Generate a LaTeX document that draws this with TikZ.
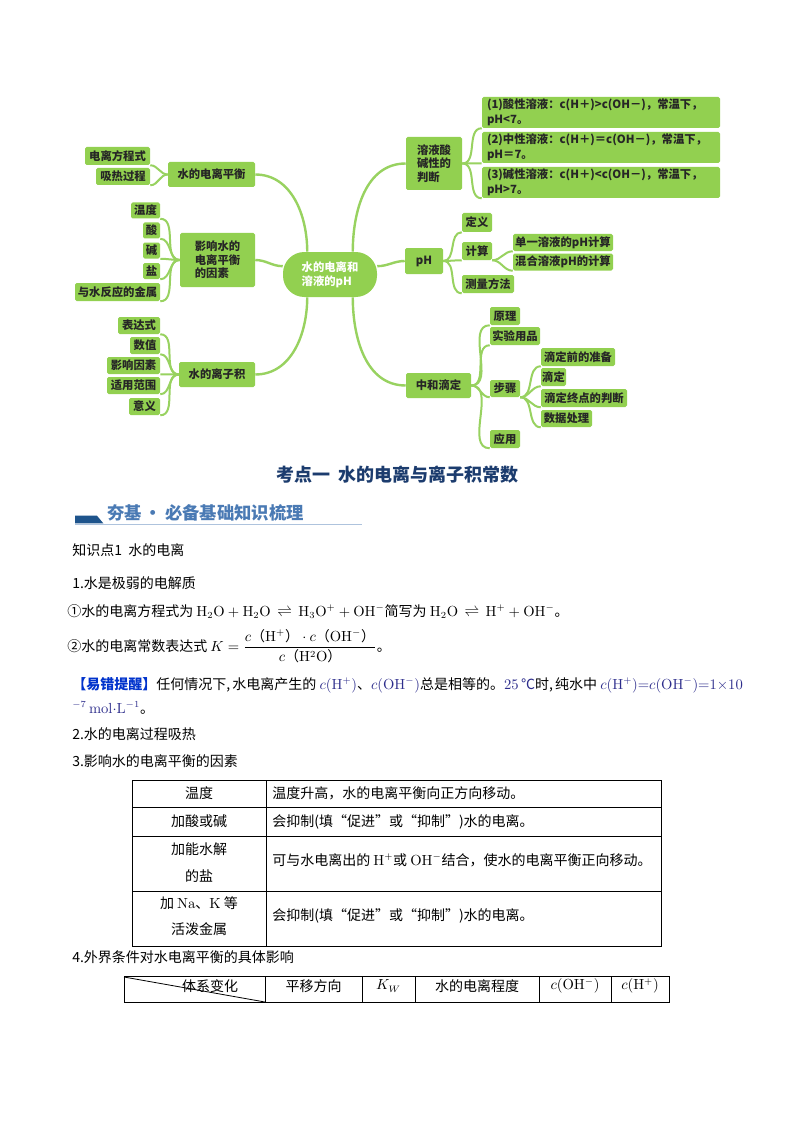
\documentclass[tikz,border=0pt]{standalone}
\usepackage{amsmath}
\usepackage{mathtools}
\usepackage[no-math]{fontspec}
\setmainfont{Noto Sans CJK SC}
\usetikzlibrary{backgrounds}
\definecolor{mapgreen}{RGB}{146,208,80}
\definecolor{mapline}{RGB}{152,210,96}
\definecolor{titleblue}{RGB}{28,60,110}
\definecolor{headblue}{RGB}{74,122,180}
\definecolor{bardark}{RGB}{30,84,140}
\definecolor{warnblue}{RGB}{0,51,204}
\definecolor{fnavy}{RGB}{45,45,140}
\newcommand{\mapfs}{\fontsize{8.5pt}{10.2pt}\selectfont\bfseries}
\newcommand{\bodyfs}{\fontsize{10.5pt}{14pt}\selectfont}
\newcommand{\cjkp}[1]{\mbox{（}\mathrm{#1}\mbox{）}}
\newcommand{\eqarrow}{\mathrel{\,\rightleftharpoons\,}}

\begin{document}
\begin{tikzpicture}[x=0.75pt, y=-0.75pt,
  leaf/.style={fill=mapgreen, rounded corners=1.2pt, inner sep=0.5pt, font=\mapfs, text=black!85},
  bx/.style 2 args={minimum width=#1*0.75pt, minimum height=#2*0.75pt},
  topic/.style={leaf, align=left},
  jbox/.style={leaf, text width=171pt, inner xsep=3.75pt, inner ysep=0.5pt,
    minimum height=23.25pt, align=left, font=\fontsize{8.5pt}{11.2pt}\selectfont\bfseries},
  hub/.style={fill=mapgreen, rounded corners=16pt, inner sep=0.5pt, font=\mapfs, text=white, align=left},
  trunk/.style={draw=mapline, line width=1.8pt},
  twig/.style={draw=mapline, line width=1.5pt},
  tor/.style={out=0, in=180},
  tol/.style={out=180, in=0},
  txt/.style={anchor=base west, inner sep=0pt, font=\bodyfs},
  cell/.style={inner sep=0pt, font=\bodyfs},
  rule/.style={line width=0.6pt}
]
\useasboundingbox (0,0) rectangle (794,1123);
\begin{scope}[on background layer]
  \fill[white] (0,0) rectangle (794,1123);
\end{scope}

% Centre
\node[hub, bx={94}{45}] (core) at (330,274.5) {水的电离和\\溶液的pH};

% Left branches
\node[leaf, bx={87}{25}] (balance) at (211.5,174.5) {水的电离平衡};
\node[leaf, bx={65}{18}] (eqn) at (117.5,156) {电离方程式};
\node[leaf, bx={54}{17}] (heat) at (123,176.5) {吸热过程};

\node[topic, bx={75}{54}] (factor) at (217.5,260) {影响水的\\电离平衡\\的因素};
\node[leaf, bx={29}{16}] (temp) at (145.5,210.5) {温度};
\node[leaf, bx={17}{16}] (acid) at (151.5,230.5) {酸};
\node[leaf, bx={17}{16}] (base) at (151.5,250.5) {碱};
\node[leaf, bx={17}{16}] (salt) at (151.5,271) {盐};
\node[leaf, bx={85}{18}] (metal) at (117.5,292) {与水反应的金属};

\node[leaf, bx={76}{25}] (kw) at (217,374.5) {水的离子积};
\node[leaf, bx={42}{17}] (expr) at (139,325.5) {表达式};
\node[leaf, bx={30}{17}] (value) at (145,345.5) {数值};
\node[leaf, bx={53}{17}] (infl) at (133.5,365.5) {影响因素};
\node[leaf, bx={53}{17}] (range) at (133.5,385.5) {适用范围};
\node[leaf, bx={31}{17}] (mean) at (144.5,406.5) {意义};

% Right branches
\node[topic, bx={56}{53}] (judge) at (434,163.5) {溶液酸\\碱性的\\判断};
\node[jbox] (acidic) at (601,112.5) {(1)酸性溶液：c(H＋)>c(OH－)，常温下，\\pH<7。};
\node[jbox] (neutral) at (601,147.5) {(2)中性溶液：c(H＋)＝c(OH－)，常温下，\\pH＝7。};
\node[jbox] (alkaline) at (601,182.5) {(3)碱性溶液：c(H＋)<c(OH－)，常温下，\\pH>7。};

\node[leaf, bx={38}{26}] (ph) at (424,261) {pH};
\node[leaf, bx={30}{19}] (phdef) at (477,222.5) {定义};
\node[leaf, bx={30}{18}] (phcalc) at (477,251) {计算};
\node[leaf, bx={100}{17}] (single) at (563,242.5) {单一溶液的pH计算};
\node[leaf, bx={100}{17}] (mixed) at (563,262) {混合溶液pH的计算};
\node[leaf, bx={52}{18}] (measure) at (488,284) {测量方法};

\node[leaf, bx={65}{25}] (titr) at (438.5,385.5) {中和滴定};
\node[leaf, bx={30}{18}] (principle) at (505,316) {原理};
\node[leaf, bx={50}{18}] (tools) at (515,336) {实验用品};
\node[leaf, bx={30}{17}] (steps) at (505,388.5) {步骤};
\node[leaf, bx={74}{18}] (prep) at (578,357) {滴定前的准备};
\node[leaf, bx={25}{18}] (drip) at (553.5,377) {滴定};
\node[leaf, bx={86}{18}] (endpt) at (584,398) {滴定终点的判断};
\node[leaf, bx={51}{17}] (data) at (566.5,418.5) {数据处理};
\node[leaf, bx={30}{18}] (apply) at (505,439) {应用};

% Connectors
\begin{scope}[on background layer]
  \draw[trunk] (core.135) to[out=90, in=0] (balance.east);
  \draw[trunk] (core.170) to[tol] (factor.east);
  \draw[trunk] (core.-135) to[out=-90, in=0] (kw.east);
  \draw[trunk] (core.45) to[out=90, in=180] (judge.west);
  \draw[trunk] (core.10) to[tor] (ph.west);
  \draw[trunk] (core.-45) to[out=-90, in=180] (titr.west);
  \foreach \n in {eqn,heat} \draw[twig] (balance.west) to[tol] (\n.south east);
  \foreach \n in {temp,acid,base,salt,metal} \draw[twig] (factor.west) to[tol] (\n.south east);
  \foreach \n in {expr,value,infl,range,mean} \draw[twig] (kw.west) to[tol] (\n.south east);
  \foreach \n in {acidic,neutral,alkaline} \draw[twig] (judge.east) to[tor] (\n.south west);
  \foreach \n in {phdef,phcalc,measure} \draw[twig] (ph.east) to[tor] (\n.south west);
  \foreach \n in {single,mixed} \draw[twig] (phcalc.south east) to[tor] (\n.south west);
  \foreach \n in {principle,tools,steps,apply} \draw[twig] (titr.east) to[tor] (\n.south west);
  \foreach \n in {prep,drip,endpt,data} \draw[twig] (steps.south east) to[tor] (\n.south west);
\end{scope}

% Title and heading
\node[inner sep=0pt, font=\fontsize{13.5pt}{16pt}\selectfont\bfseries, text=titleblue] (title) at (397.5,475) {考点一\ \ 水的电离与离子积常数};
\fill[bardark] (75,515.7) -- (97,515.7) -- (103.3,523.3) -- (75,523.3) -- cycle;
\node[anchor=west, inner sep=0pt, font=\fontsize{13pt}{15pt}\selectfont\bfseries, text=headblue] (head) at (107,512.5) {夯基\,·\,必备基础知识梳理};
\draw[draw=headblue!45, line width=0.6pt] (75,524.5) -- (362,524.5);

% Body text
\node[txt] (kp) at (72,555) {知识点1\ \ 水的电离};
\node[txt] (p1) at (72,588) {1.水是极弱的电解质};
\node[txt] (p2) at (67,616) {①水的电离方程式为 $\mathrm{H_2O+H_2O\eqarrow H_3O^+ + OH^-}$简写为 $\mathrm{H_2O\eqarrow H^+ + OH^-}$。};
\node[txt] (p3) at (67,651) {②水的电离常数表达式 $K=\dfrac{c\cjkp{H^+}\cdot c\cjkp{OH^-}}{c\cjkp{H^2O}}$。};
\node[txt] (p4) at (72,689) {{\color{warnblue}\bfseries 【易错提醒】}任何情况下,\,水电离产生的 {\color{fnavy}$c(\mathrm{H^+})$}、{\color{fnavy}$c(\mathrm{OH^-})$}总是相等的。{\color{fnavy}$25$\,℃}时,\,纯水中 {\color{fnavy}$c(\mathrm{H^+}){=}c(\mathrm{OH^-}){=}1{\times}10$}};
\node[txt] (p5) at (72,713) {{\color{fnavy}$^{-7}\,\mathrm{mol{\cdot}L^{-1}}$}。};
\node[txt] (p6) at (72,739) {2.水的电离过程吸热};
\node[txt] (p7) at (72,766) {3.影响水的电离平衡的因素};

% Table of factors
\draw[rule] (132,780) rectangle (661,946);
\draw[rule] (266,780) -- (266,946);
\foreach \yy in {807,836,891} \draw[rule] (132,\yy) -- (661,\yy);
\node[cell] (r1a) at (199,793.5) {温度};
\node[cell] (r2a) at (199,821.5) {加酸或碱};
\node[cell] (r3a) at (199,849) {加能水解};
\node[cell] (r3c) at (199,876) {的盐};
\node[cell] (r4a) at (199,903) {加 $\mathrm{Na}$、$\mathrm{K}$ 等};
\node[cell] (r4c) at (199,929) {活泼金属};
\node[cell, anchor=west] (r1b) at (272,793.5) {温度升高，水的电离平衡向正方向移动。};
\node[cell, anchor=west] (r2b) at (272,821.5) {会抑制(填“促进”或“抑制”)水的电离。};
\node[cell, anchor=west] (r3b) at (272,860) {可与水电离出的 $\mathrm{H^+}$或 $\mathrm{OH^-}$结合，使水的电离平衡正向移动。};
\node[cell, anchor=west] (r4b) at (272,916) {会抑制(填“促进”或“抑制”)水的电离。};

\node[txt] (p8) at (72,962) {4.外界条件对水电离平衡的具体影响};

% Table of effects
\draw[rule] (124,976) rectangle (669,1002);
\foreach \xx in {265,362,415,539,611} \draw[rule] (\xx,976) -- (\xx,1002);
\draw[rule] (124,977) -- (265,1002);
\node[cell] (h1) at (210,986) {体系变化};
\node[cell] (h2) at (313.5,986) {平移方向};
\node[cell] (h3) at (388.5,986) {$K_W$};
\node[cell] (h4) at (477,986) {水的电离程度};
\node[cell] (h5) at (575,986) {$c(\mathrm{OH^-})$};
\node[cell] (h6) at (640,986) {$c(\mathrm{H^+})$};
\end{tikzpicture}
\end{document}
